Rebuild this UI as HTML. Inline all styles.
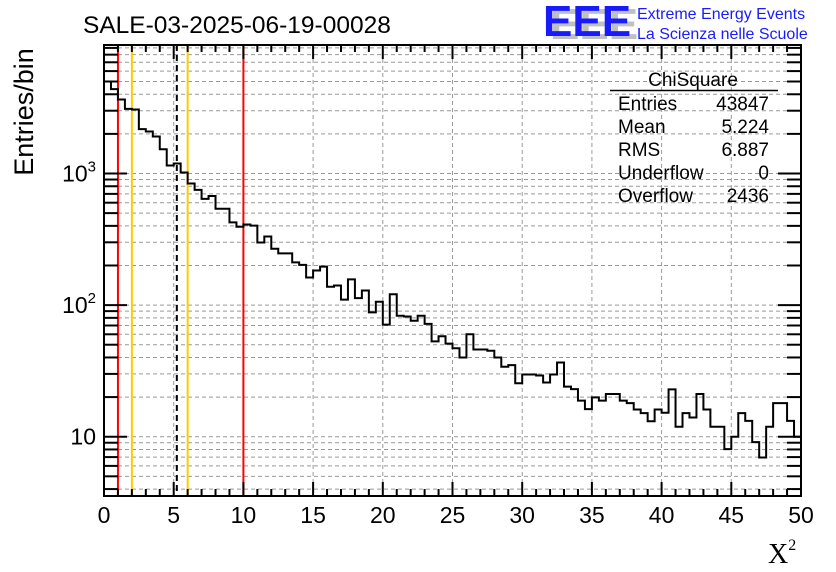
<!DOCTYPE html>
<html><head><meta charset="utf-8"><style>
body{margin:0;background:#fff;width:836px;height:572px;overflow:hidden;font-family:"Liberation Sans",sans-serif;}
svg{display:block}
</style></head><body>
<svg id="chart" width="836" height="572" viewBox="0 0 836 572" xmlns="http://www.w3.org/2000/svg" font-family="Liberation Sans, sans-serif">
<g id="grid"></g>
<g id="lines"></g>
<g id="hist"></g>
<g id="axes"></g>
<text x="83" y="33" font-size="24.5">SALE-03-2025-06-19-00028</text>
<g>
<text x="550" y="39" font-size="44" font-weight="bold" fill="#c0c0c0" letter-spacing="0">EEE</text>
<text x="543" y="36" font-size="44" font-weight="bold" fill="#1a1aff" letter-spacing="0">EEE</text>
<text x="637" y="19" font-size="16" fill="#1a1aff">Extreme Energy Events</text>
<text x="637" y="39" font-size="16" fill="#1a1aff">La Scienza nelle Scuole</text>
</g>
<g font-size="19">
<text x="693" y="86" text-anchor="middle">ChiSquare</text>
<line x1="610" y1="90.5" x2="778" y2="90.5" stroke="#000" stroke-width="1.5"/>
<text x="618" y="110">Entries</text><text x="769" y="110" text-anchor="end">43847</text>
<text x="618" y="133">Mean</text><text x="769" y="133" text-anchor="end">5.224</text>
<text x="618" y="156">RMS</text><text x="769" y="156" text-anchor="end">6.887</text>
<text x="618" y="179">Underflow</text><text x="769" y="179" text-anchor="end">0</text>
<text x="618" y="202">Overflow</text><text x="769" y="202" text-anchor="end">2436</text>
</g>
<text transform="translate(33,112) rotate(-90)" text-anchor="middle" font-size="27">Entries/bin</text>
<text x="768" y="563" font-family="Liberation Serif, serif" font-size="28">X<tspan font-size="16" dy="-13">2</tspan></text>
</svg>
<script>
const counts=[5000,4375,3650,3100,3065,2175,2085,1910,1530,1150,1190,1018,839,751,642,674,540,540,425,394,410,402,299,332,268,247,247,211,202,162,183,196,138,141,110,157,113,129,88,106,71,121,83,82,76,83,72,53,58,51,47,40,60,46,46,45,40,34,35,25.5,29.7,29.7,29.2,25.8,29.7,36.6,24,23,18.8,16.2,19.9,18.8,21.1,21.1,18.8,18,16.1,15.1,13.1,16.1,15.2,22.9,11.9,15.1,14,21.1,16.1,11.9,11.9,8.05,10,15.1,13.2,9.1,6.95,11.9,18,18,13.2,10];
const xTicks=[0,5,10,15,20,25,30,35,40,45,50];
const yDecades=[10,100,1000];
const binWidth=0.5;
const refLines=[{x:1,c:"#ff0000",d:""},{x:10,c:"#ff0000",d:""},{x:2,c:"#ffcc00",d:""},{x:6,c:"#ffcc00",d:""},{x:5.224,c:"#000",d:"6,4"}];

const L=104,R=801,T=45,B=496;
const X=v=>L+(v/50)*(R-L);
const Y=v=>436.7-(Math.log10(v)-1)*131.6;
const NS="http://www.w3.org/2000/svg";
function mk(tag,attrs,parent){const e=document.createElementNS(NS,tag);for(const k in attrs)e.setAttribute(k,attrs[k]);parent.appendChild(e);return e;}
const grid=document.getElementById('grid'),axes=document.getElementById('axes'),hist=document.getElementById('hist'),lines=document.getElementById('lines');
for(let d=1;d<=1000;d*=10){for(let m=1;m<=9;m++){const v=d*m;const y=Y(v);if(y<T||y>B)continue;
 const g=mk('line',{x1:L,x2:R,y1:y,y2:y,stroke:'#999','stroke-dasharray':'4,3','stroke-width':1},grid);
 
 const len=m===1?23:14;
 mk('line',{x1:L,x2:L+len,y1:y,y2:y,stroke:'#000','stroke-width':2},axes);
 mk('line',{x1:R,x2:R-len,y1:y,y2:y,stroke:'#000','stroke-width':2},axes);
}}
yDecades.forEach(v=>{const y=Y(v);const t=mk('text',{x:96,y:y+8,'text-anchor':'end','font-size':23},axes);
 
 if(v===10){t.textContent='10';}else{t.textContent='10';const s=mk('tspan',{dy:-10,'font-size':15},t);s.textContent=String(Math.log10(v));}});
for(let i=0;i<=50;i++){const x=X(i);const maj=i%5===0;
 if(maj&&i>0&&i<50){const g=mk('line',{x1:x,x2:x,y1:T,y2:B,stroke:'#999','stroke-dasharray':'4,3','stroke-width':1},grid);
  }
 const len=maj?14:7;
 mk('line',{x1:x,x2:x,y1:B,y2:B-len,stroke:'#000','stroke-width':2},axes);
 mk('line',{x1:x,x2:x,y1:T,y2:T+len,stroke:'#000','stroke-width':2},axes);
}
xTicks.forEach(v=>{const t=mk('text',{x:X(v),y:523,'text-anchor':'middle','font-size':23},axes);
 t.textContent=v;});
refLines.forEach(r=>{const l=mk('line',{x1:X(r.x),x2:X(r.x),y1:T,y2:B,stroke:r.c,'stroke-width':2},lines);
 if(r.d)l.setAttribute('stroke-dasharray',r.d);
 });
let d='';counts.forEach((c,i)=>{const x0=X(i*binWidth),x1=X((i+1)*binWidth),y=Y(c);
 d+=(i===0?'M'+x0+','+y:'L'+x0+','+y)+'L'+x1+','+y;});
const p=mk('path',{d:d,fill:'none',stroke:'#000','stroke-width':2},hist);

const fr=mk('rect',{x:L,y:T,width:R-L,height:B-T,fill:'none',stroke:'#000','stroke-width':2},axes);

</script>
</body></html>
